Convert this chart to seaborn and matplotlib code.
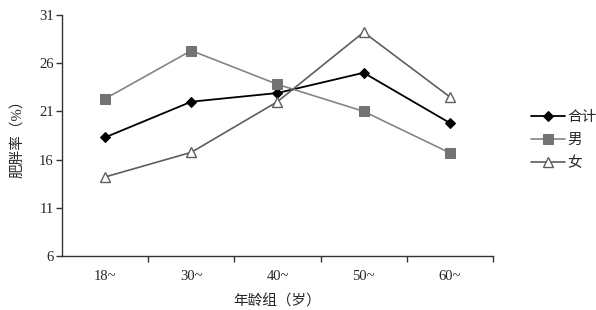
import matplotlib
matplotlib.use("Agg")
import matplotlib.pyplot as plt
import seaborn as sns
import pandas as pd

categories = ["18~", "30~", "40~", "50~", "60~"]
total = [18.3, 22.0, 22.9, 25.0, 19.8]
male = [22.3, 27.3, 23.8, 21.0, 16.7]
female = [14.2, 16.75, 22.0, 29.2, 22.5]
series_names = ["合计", "男", "女"]
y_ticks = [6, 11, 16, 21, 26, 31]

sns.set_theme(style="white")
plt.rcParams['font.family'] = ['Liberation Serif', 'Noto Sans CJK SC']
plt.rcParams['axes.unicode_minus'] = False

fig = plt.figure(figsize=(5.96, 3.10), dpi=100)
ax = fig.add_axes([0.104, 0.174, 0.723, 0.778])

df = pd.DataFrame({"组": categories, "合计": total, "男": male, "女": female})

styles = {
    "合计": dict(color="black", marker="D", markersize=5, markerfacecolor="black",
                markeredgecolor="black", linewidth=1.3),
    "男": dict(color="#858585", marker="s", markersize=7, markerfacecolor="#737373",
              markeredgecolor="#737373", linewidth=1.2),
    "女": dict(color="#5e5e5e", marker="^", markersize=7, markerfacecolor="white",
              markeredgecolor="#5e5e5e", markeredgewidth=1.0, linewidth=1.2),
}
for name in series_names:
    sns.lineplot(data=df, x="组", y=name, ax=ax, label=name, sort=False, **styles[name])

ax.set_xlim(-0.5, 4.5)
ax.set_ylim(6, 31)
ax.set_yticks(y_ticks)
ax.set_yticklabels([str(v) for v in y_ticks], fontsize=10.5)
ax.set_xticks(range(len(categories)))
ax.set_xticklabels(categories, fontsize=10.5)
ax.set_xticks([0.5, 1.5, 2.5, 3.5, 4.5], minor=True)
ax.tick_params(axis="x", which="major", length=0, pad=10)
ax.tick_params(axis="x", which="minor", length=4, width=1, color="#333333", direction="out", bottom=True)
ax.tick_params(axis="y", which="major", length=4, width=1, color="#333333", direction="out", left=True, pad=2)

for s in ["top", "right"]:
    ax.spines[s].set_visible(False)
for s in ["left", "bottom"]:
    ax.spines[s].set_color("#333333")
    ax.spines[s].set_linewidth(1.0)

ax.set_xlabel("年龄组（岁）", fontsize=10.5, labelpad=8)
ax.set_ylabel("肥胖率（%）", fontsize=10.5, labelpad=11)

ax.legend(loc="center left", bbox_to_anchor=(1.058, 0.48), frameon=False, fontsize=10.5,
          handlelength=2.3, handletextpad=0.2, labelspacing=0.65)

fig.savefig("out.png", dpi=100)
